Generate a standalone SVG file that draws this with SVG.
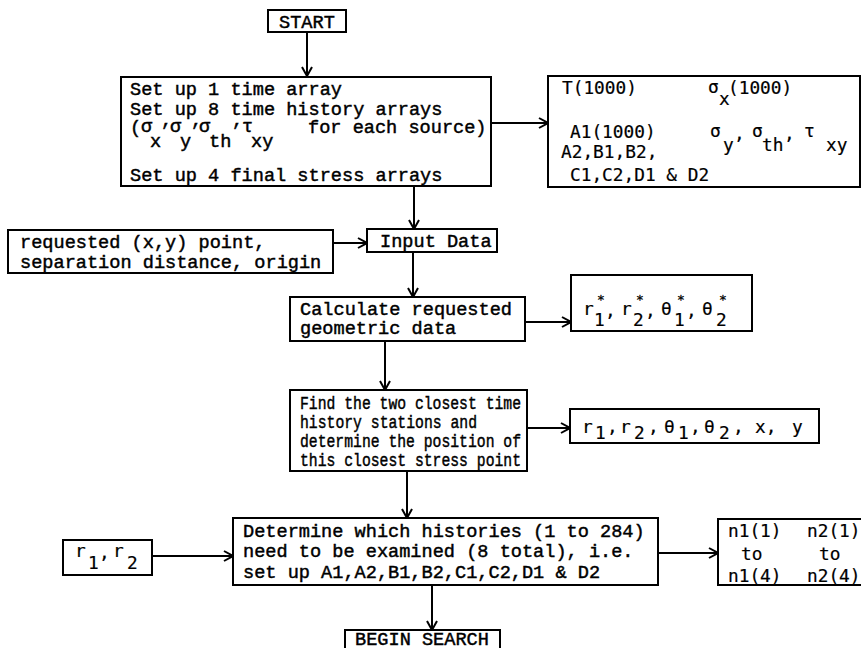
<svg xmlns="http://www.w3.org/2000/svg" width="861" height="648" viewBox="0 0 861 648">
<style>
.box{fill:#fff;stroke:#000;stroke-width:2}
.t{font-family:"Liberation Mono","Courier New",monospace;font-size:18.6px;fill:#000;stroke:#000;stroke-width:0.45}
.s{font-family:"DejaVu Sans Mono","Liberation Mono",monospace;font-size:17.8px;fill:#000;stroke:#000;stroke-width:0.2}
.st{font-family:"DejaVu Sans Mono",monospace;font-size:13px;fill:#000;stroke:#000;stroke-width:0.3}
.conn line{stroke:#000;stroke-width:2;fill:none}
</style>
<defs>
<marker id="arr" viewBox="0 0 10 12" refX="10" refY="6" markerWidth="10" markerHeight="12" markerUnits="userSpaceOnUse" orient="auto">
<path d="M1,1 L10,6 L1,11" fill="none" stroke="#000" stroke-width="2"/>
</marker>
</defs>
<rect width="861" height="648" fill="#fff"/>
<g class="conn">
<line x1="307" y1="32" x2="307" y2="76" marker-end="url(#arr)"/>
<line x1="491" y1="123" x2="548" y2="123" marker-end="url(#arr)"/>
<line x1="414" y1="186" x2="414" y2="229" marker-end="url(#arr)"/>
<line x1="333" y1="243" x2="367" y2="243" marker-end="url(#arr)"/>
<line x1="413" y1="252" x2="413" y2="297" marker-end="url(#arr)"/>
<line x1="525" y1="322" x2="571" y2="322" marker-end="url(#arr)"/>
<line x1="385" y1="341" x2="385" y2="390" marker-end="url(#arr)"/>
<line x1="527" y1="428" x2="570" y2="428" marker-end="url(#arr)"/>
<line x1="407" y1="471" x2="407" y2="518" marker-end="url(#arr)"/>
<line x1="152" y1="556" x2="233" y2="556" marker-end="url(#arr)"/>
<line x1="658" y1="553" x2="718" y2="553" marker-end="url(#arr)"/>
<line x1="432" y1="585" x2="432" y2="630" marker-end="url(#arr)"/>
</g>
<g id="start">
<rect class="box" x="268" y="10" width="78" height="22"/>
<text class="t" x="279" y="28">START</text>
</g>
<g id="setup">
<rect class="box" x="121" y="77" width="370" height="109"/>
<text class="t">
<tspan x="130" y="95">Set up 1 time array</tspan>
<tspan x="130" y="115">Set up 8 time history arrays</tspan>
<tspan x="130" y="133">(</tspan><tspan x="141" y="132">σ</tspan><tspan x="150" y="147">x</tspan><tspan x="161" y="126">,</tspan><tspan x="170" y="132">σ</tspan><tspan x="180" y="147">y</tspan><tspan x="191" y="126">,</tspan><tspan x="199" y="132">σ</tspan><tspan x="209" y="147">th</tspan><tspan x="232" y="126">,</tspan><tspan x="242" y="132">τ</tspan><tspan x="251" y="147">xy</tspan><tspan x="308" y="133">for each source)</tspan>
<tspan x="130" y="181">Set up 4 final stress arrays</tspan>
</text>
</g>
<g id="arrays">
<rect class="box" x="548" y="76" width="312" height="111"/>
<text class="s">
<tspan x="562" y="94">T(1000)</tspan>
<tspan x="708" y="93">σ</tspan><tspan x="719" y="105">x</tspan><tspan x="728" y="94">(1000)</tspan>
<tspan x="570" y="138">A1(1000)</tspan>
<tspan x="710" y="137">σ</tspan><tspan x="723" y="151">y</tspan><tspan x="734" y="140">,</tspan>
<tspan x="752" y="137">σ</tspan><tspan x="762" y="151">th</tspan><tspan x="784" y="140">,</tspan>
<tspan x="804" y="137">τ</tspan><tspan x="826" y="151">xy</tspan>
<tspan x="561" y="158">A2,B1,B2,</tspan>
<tspan x="570" y="181">C1,C2,D1 &amp; D2</tspan>
</text>
</g>
<g id="requested">
<rect class="box" x="8" y="230" width="325" height="43"/>
<text class="t">
<tspan x="20" y="248">requested (x,y) point,</tspan>
<tspan x="20" y="268">separation distance, origin</tspan>
</text>
</g>
<g id="input">
<rect class="box" x="367" y="229" width="130" height="23"/>
<text class="t" x="380" y="247">Input Data</text>
</g>
<g id="calculate">
<rect class="box" x="290" y="297" width="235" height="44"/>
<text class="t">
<tspan x="300" y="315">Calculate requested</tspan>
<tspan x="300" y="334">geometric data</tspan>
</text>
</g>
<g id="rstar">
<rect class="box" x="571" y="275" width="181" height="56"/>
<text class="s">
<tspan x="583" y="315">r</tspan><tspan x="594" y="326">1</tspan><tspan x="605" y="317">,</tspan>
<tspan x="621" y="315">r</tspan><tspan x="633" y="326">2</tspan><tspan x="645" y="317">,</tspan>
<tspan x="661" y="315">θ</tspan><tspan x="674" y="326">1</tspan><tspan x="686" y="317">,</tspan>
<tspan x="702" y="315">θ</tspan><tspan x="716" y="326">2</tspan>
</text>
<text class="st">
<tspan x="597" y="304">*</tspan><tspan x="636" y="304">*</tspan><tspan x="677" y="304">*</tspan><tspan x="719" y="304">*</tspan>
</text>
</g>
<g id="find">
<rect class="box" x="290" y="390" width="237" height="81"/>
<text class="t">
<tspan x="300" y="409" textLength="221" lengthAdjust="spacingAndGlyphs">Find the two closest time</tspan>
<tspan x="300" y="428" textLength="177" lengthAdjust="spacingAndGlyphs">history stations and</tspan>
<tspan x="300" y="447" textLength="221" lengthAdjust="spacingAndGlyphs">determine the position of</tspan>
<tspan x="300" y="466" textLength="221" lengthAdjust="spacingAndGlyphs">this closest stress point</tspan>
</text>
</g>
<g id="rvals">
<rect class="box" x="570" y="409" width="249" height="34"/>
<text class="s">
<tspan x="582" y="433">r</tspan><tspan x="595" y="439">1</tspan><tspan x="607" y="433">,</tspan>
<tspan x="620" y="433">r</tspan><tspan x="634" y="439">2</tspan><tspan x="648" y="433">,</tspan>
<tspan x="664" y="433">θ</tspan><tspan x="678" y="439">1</tspan><tspan x="690" y="433">,</tspan>
<tspan x="704" y="433">θ</tspan><tspan x="719" y="439">2</tspan><tspan x="733" y="433">,</tspan>
<tspan x="755" y="433">x,</tspan>
<tspan x="792" y="433">y</tspan>
</text>
</g>
<g id="r12">
<rect class="box" x="63" y="540" width="89" height="35"/>
<text class="s">
<tspan x="75" y="557">r</tspan><tspan x="88" y="569">1</tspan><tspan x="99" y="559">,</tspan>
<tspan x="113" y="557">r</tspan><tspan x="127" y="569">2</tspan>
</text>
</g>
<g id="determine">
<rect class="box" x="233" y="518" width="425" height="67"/>
<text class="t">
<tspan x="243" y="537">Determine which histories (1 to 284)</tspan>
<tspan x="243" y="557">need to be examined (8 total), i.e.</tspan>
<tspan x="243" y="578">set up A1,A2,B1,B2,C1,C2,D1 &amp; D2</tspan>
</text>
</g>
<g id="nrange">
<rect class="box" x="718" y="519" width="150" height="66"/>
<text class="s">
<tspan x="728" y="537">n1(1)</tspan><tspan x="807" y="537">n2(1)</tspan>
<tspan x="741" y="560">to</tspan><tspan x="819" y="560">to</tspan>
<tspan x="728" y="582">n1(4)</tspan><tspan x="807" y="582">n2(4)</tspan>
</text>
</g>
<g id="begin">
<rect class="box" x="345" y="630" width="155" height="30"/>
<text class="t" x="355" y="645">BEGIN SEARCH</text>
</g>
</svg>
